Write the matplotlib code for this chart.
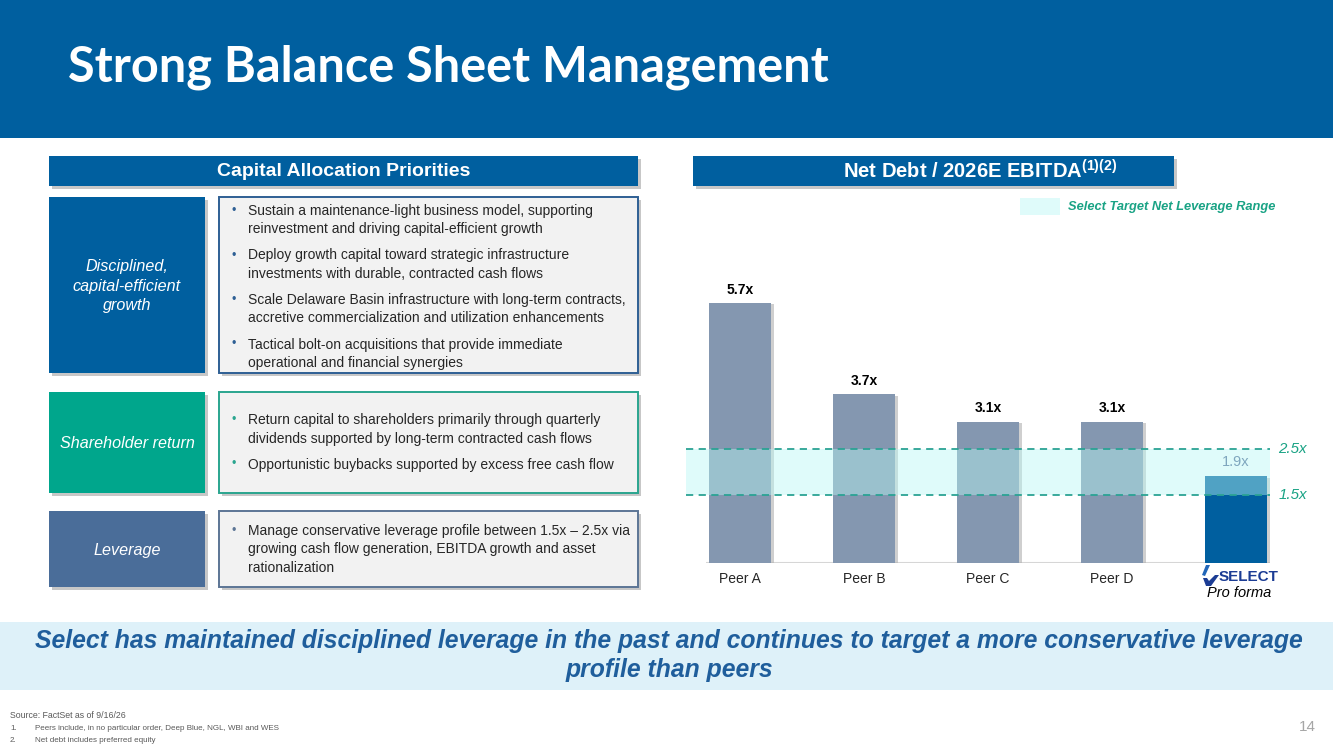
import matplotlib
matplotlib.use('Agg')
import matplotlib.pyplot as plt
import matplotlib.patheffects as pe
from matplotlib.patches import Rectangle, Polygon
from matplotlib import font_manager

# --- дані ---
categories = ['Peer A', 'Peer B', 'Peer C', 'Peer D', 'SELECT']
leverage = [5.7, 3.7, 3.1, 3.1, 1.9]
target_low = 1.5
target_high = 2.5

title = 'Strong Balance Sheet Management'
left_header = 'Capital Allocation Priorities'
right_header = 'Net Debt / 2026E EBITDA'
row_labels = ['Disciplined,\ncapital-efficient\ngrowth', 'Shareholder return', 'Leverage']
row_bullets = [
    [['Sustain a maintenance-light business model, supporting',
      'reinvestment and driving capital-efficient growth'],
     ['Deploy growth capital toward strategic infrastructure',
      'investments with durable, contracted cash flows'],
     ['Scale Delaware Basin infrastructure with long-term contracts,',
      'accretive commercialization and utilization enhancements'],
     ['Tactical bolt-on acquisitions that provide immediate',
      'operational and financial synergies']],
    [['Return capital to shareholders primarily through quarterly',
      'dividends supported by long-term contracted cash flows'],
     ['Opportunistic buybacks supported by excess free cash flow']],
    [['Manage conservative leverage profile between 1.5x \u2013 2.5x via',
      'growing cash flow generation, EBITDA growth and asset',
      'rationalization']],
]
takeaway = ['Select has maintained disciplined leverage in the past and continues to target a more conservative leverage',
            'profile than peers']
footnotes = ['Source: FactSet as of 9/16/26',
             'Peers include, in no particular order, Deep Blue, NGL, WBI and WES',
             'Net debt includes preferred equity']

# --- кольори ---
BLUE = '#005F9F'
TEAL = '#00A68C'
SLATE = '#4A6D99'
PEER = '#8497B0'
GREEN_TXT = '#1AA385'

names = {f.name for f in font_manager.fontManager.ttflist}
NARROW = 'Liberation Sans Narrow' if 'Liberation Sans Narrow' in names else 'Liberation Sans'
k = 1.0 if NARROW == 'Liberation Sans Narrow' else 0.84
TITLE_FONT = 'Lato' if 'Lato' in names else 'DejaVu Sans'

plt.rcParams['font.family'] = ['Liberation Sans', 'DejaVu Sans']
plt.rcParams['mathtext.fontset'] = 'custom'
plt.rcParams['mathtext.rm'] = 'Liberation Sans:bold'

W, H = 1333, 749
fig = plt.figure(figsize=(W / 100, H / 100), dpi=100)
bg = fig.add_axes([0, 0, 1, 1])
bg.set_xlim(0, W)
bg.set_ylim(H, 0)
bg.axis('off')

shadow = [pe.SimplePatchShadow(offset=(2, -2), shadow_rgbFace='#9A9A9A', alpha=0.55), pe.Normal()]


def box(x, y, w, h, fc, ec='none', lw=0, shade=True):
    r = Rectangle((x, y), w, h, facecolor=fc, edgecolor=ec, linewidth=lw)
    if shade:
        r.set_path_effects(shadow)
    bg.add_patch(r)
    return r


# верхній банер
box(0, 0, W, 138, BLUE, shade=False)
bg.text(68, 67, title, color='white', fontsize=35, fontweight='bold',
        family=TITLE_FONT, va='center', ha='left')

# заголовки блоків
box(49, 156, 589, 30, BLUE)
bg.text(344, 171, left_header, color='white', fontsize=14, fontweight='bold', ha='center', va='center')
box(693, 156, 481, 30, BLUE)
bg.text(980, 171, right_header + r'$^{\mathrm{(1)(2)}}$', color='white', fontsize=14.5,
        fontweight='bold', ha='center', va='center')

# ліві рядки
rows = [(197, 176, BLUE, '#2E5F94', 211),
        (392, 101, TEAL, '#2AA58F', 420),
        (511, 76, SLATE, '#5C7595', 531)]
for (y0, h, col, edge, ystart), label, bullets in zip(rows, row_labels, row_bullets):
    box(49, y0, 156, h, col)
    bg.text(127, y0 + h / 2 + 1, label, color='white', fontsize=13.8 * k, style='italic',
            family=[NARROW, 'Liberation Sans'], ha='center', va='center', linespacing=1.35)
    box(219, y0, 419, h, '#F2F2F2', ec=edge, lw=1.4)
    y = ystart
    for b in bullets:
        bg.text(231, y, '\u2022', color=edge, fontsize=9, ha='left', va='center')
        for line in b:
            bg.text(248, y, line, color='#262626', fontsize=10, ha='left', va='center')
            y += 18.5
        y += 7.5

# нижній банер
box(0, 622, W, 68, '#DEF1F9', shade=False)
for j, line in enumerate(takeaway):
    bg.text(669, 641 + 29 * j, line, color='#1F5E9C', fontsize=21.2 * k, fontweight='bold',
            style='italic', family=[NARROW, 'Liberation Sans'], ha='center', va='center')

# примітки
bg.text(10, 716, footnotes[0], fontsize=6.3, color='#595959', va='center')
for i, f in enumerate(footnotes[1:]):
    bg.text(10, 728 + 12 * i, f'{i + 1}.', fontsize=5.8, color='#595959', va='center')
    bg.text(35, 728 + 12 * i, f, fontsize=5.8, color='#595959', va='center')
bg.text(1307, 727, '14', fontsize=11, color='#A6A6A6', ha='center', va='center')

# легенда
band_rgb = (184 / 255, 248 / 255, 244 / 255)
band_alpha = 0.44
bg.add_patch(Rectangle((1020, 198), 40, 17, facecolor=band_rgb, alpha=band_alpha, edgecolor='none'))
bg.text(1068, 207, 'Select Target Net Leverage Range', color=GREEN_TXT, fontsize=11 * k,
        style='italic', fontweight='bold', family=[NARROW, 'Liberation Sans'], va='center')

# --- стовпчикова діаграма ---
ax = fig.add_axes([686 / W, (H - 563) / H, 584 / W, 283 / H])
ax.set_xlim(-0.435, 4.274)
ax.set_ylim(0, 6.2)
ax.axis('off')

xs = list(range(len(categories)))
colors = [PEER] * 4 + [BLUE]
ax.plot([-0.27, 4.27], [0, 0], color='#D6D6D6', lw=1.5, zorder=1, solid_capstyle='butt')
bars = ax.bar(xs, leverage, width=0.5, color=colors, zorder=2)
for b in bars:
    b.set_path_effects([pe.SimplePatchShadow(offset=(2, -1), shadow_rgbFace='#B0B0B0', alpha=0.6), pe.Normal()])

ax.axhspan(target_low, target_high, facecolor=band_rgb, alpha=band_alpha, edgecolor='none', zorder=3)
for v in (target_low, target_high):
    ax.axhline(v, color='#2BA394', lw=1.3, ls=(0, (4, 3)), zorder=4)
    ax.text(1.014, v, f'{v}x', transform=ax.get_yaxis_transform(), color=GREEN_TXT,
            fontsize=13 * k, style='italic', family=[NARROW, 'Liberation Sans'], va='center', ha='left')

for i, v in enumerate(leverage):
    if i < 4:
        ax.annotate(f'{v}x', (i, v), xytext=(0, 13), textcoords='offset pixels', ha='center',
                    va='center', fontsize=10, fontweight='bold', color='black')
        ax.annotate(categories[i], (i, 0), xytext=(0, -16), textcoords='offset pixels',
                    ha='center', va='center', fontsize=10, color='#262626')
    else:
        ax.annotate(f'{v}x', (i, v), xytext=(0, 14), textcoords='offset pixels',
                    ha='center', va='center', fontsize=10.5, color='#7EA6BE')
        ax.annotate(categories[i], (i, 0), xytext=(13, -14), textcoords='offset pixels',
                    ha='center', va='center', fontsize=11, fontweight='bold', color='#1B3C94')
        ax.annotate('Pro forma', (i, 0), xytext=(3, -30), textcoords='offset pixels',
                    ha='center', va='center', fontsize=10.5, style='italic', color='black')

# значок логотипу
bg.add_patch(Polygon([(1202, 575), (1206, 565), (1210, 565), (1205, 576)], closed=True,
                     facecolor='#2266B8', edgecolor='none'))
bg.add_patch(Polygon([(1203, 578), (1207, 578), (1209, 581), (1215, 575), (1219, 575),
                      (1211, 586), (1206, 586)], closed=True, facecolor='#1B3C94', edgecolor='none'))

fig.savefig('out.png', dpi=100)
